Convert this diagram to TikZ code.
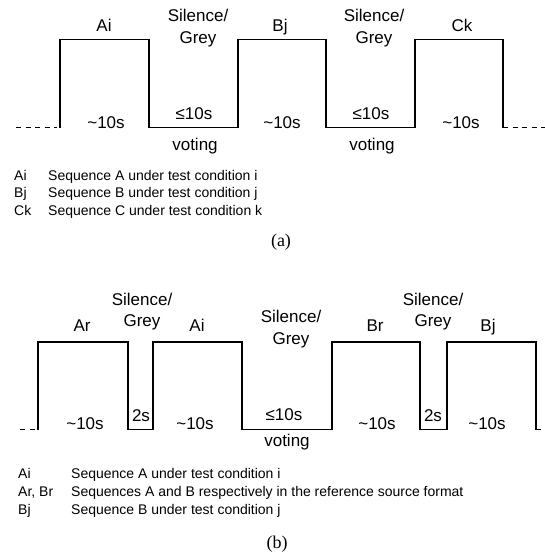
\documentclass[tikz,border=0pt]{standalone}
\usepackage{fontspec}
\setmainfont{Liberation Serif}
\setsansfont{Liberation Sans}
\begin{document}
\begin{tikzpicture}[x=1pt,y=-1pt,
  wave/.style={line width=1.8pt},
  dashwave/.style={line width=1.8pt,dash pattern=on 5pt off 4.5pt},
  lbl/.style={font=\sffamily\fontsize{17}{20}\selectfont,inner sep=0pt,anchor=base},
  leg/.style={font=\sffamily\fontsize{14}{16}\selectfont,inner sep=0pt,anchor=base west},
  capt/.style={font=\rmfamily\fontsize{18}{20}\selectfont,inner sep=0pt,anchor=base}]
\useasboundingbox (0,0) rectangle (545,552);
% ---------------- panel (a) ----------------
\coordinate (a0) at (16,127.5);
\coordinate (a1) at (60,127.5);
\coordinate (a9) at (503,127.5);
\coordinate (a10) at (545,127.5);
\draw[dashwave] (a0) -- (57,127.5);
\draw[wave] (a1) -- (60,39.5) -- (149,39.5) -- (149,127.5) -- (237.7,127.5)
  -- (237.7,39.5) -- (326,39.5) -- (326,127.5) -- (415,127.5) -- (415,39.5)
  -- (503,39.5) -- (a9);
\draw[dashwave] (a9) -- (a10);
\node[lbl] (lAi) at (104,31.7) {Ai};
\node[lbl] (lBj) at (280,31.7) {Bj};
\node[lbl] (lCk) at (462,31.7) {Ck};
\node[lbl] (s1) at (198,21.7) {Silence/};
\node[lbl] (g1) at (198,43.3) {Grey};
\node[lbl] (s2) at (374,21.7) {Silence/};
\node[lbl] (g2) at (374,43.3) {Grey};
\node[lbl] (t1) at (106,128) {\textasciitilde10s};
\node[lbl] (t2) at (282,128) {\textasciitilde10s};
\node[lbl] (t3) at (461,128) {\textasciitilde10s};
\node[lbl] (v1) at (194,119) {≤10s};
\node[lbl] (v2) at (371,119) {≤10s};
\node[lbl] (w1) at (195,150.7) {voting};
\node[lbl] (w2) at (372,150.7) {voting};
\node[leg] (ka1) at (14,180) {Ai};
\node[leg] (ka2) at (14,197.7) {Bj};
\node[leg] (ka3) at (14,215) {Ck};
\node[leg] (da1) at (48,180) {Sequence A under test condition i};
\node[leg] (da2) at (48,197.7) {Sequence B under test condition j};
\node[leg] (da3) at (48,215) {Sequence C under test condition k};
\node[capt] (capa) at (281,246) {(a)};
% ---------------- panel (b) ----------------
\coordinate (b0) at (20,429.5);
\coordinate (b1) at (38,429.5);
\coordinate (b9) at (535.7,429.5);
\coordinate (b10) at (545,429.5);
\draw[dashwave] (b0) -- (35,429.5);
\draw[wave] (b1) -- (38,341.7) -- (127.7,341.7) -- (127.7,429.5) -- (153,429.5)
  -- (153,341.7) -- (242,341.7) -- (242,429.5) -- (331.7,429.5) -- (331.7,341.7)
  -- (420,341.7) -- (420,429.5) -- (446.7,429.5) -- (446.7,341.7) -- (535.7,341.7)
  -- (b9);
\draw[dashwave] (b9) -- (b10);
\node[lbl] (lAr) at (82,331.7) {Ar};
\node[lbl] (lAi2) at (197,331.7) {Ai};
\node[lbl] (lBr) at (375,331.7) {Br};
\node[lbl] (lBj2) at (488,331.7) {Bj};
\node[lbl] (s3) at (142,305) {Silence/};
\node[lbl] (g3) at (142,326.7) {Grey};
\node[lbl] (s4) at (291,322.3) {Silence/};
\node[lbl] (g4) at (291,344) {Grey};
\node[lbl] (s5) at (433,305) {Silence/};
\node[lbl] (g5) at (433,326.7) {Grey};
\node[lbl] (u1) at (141,421.7) {2s};
\node[lbl] (u2) at (433,421.7) {2s};
\node[lbl] (t4) at (85,429.5) {\textasciitilde10s};
\node[lbl] (t5) at (195,429.5) {\textasciitilde10s};
\node[lbl] (t6) at (377,429.5) {\textasciitilde10s};
\node[lbl] (t7) at (487,429.5) {\textasciitilde10s};
\node[lbl] (v3) at (284,420) {≤10s};
\node[lbl] (w3) at (287,446.7) {voting};
\node[leg] (kb1) at (18,478.3) {Ai};
\node[leg] (kb2) at (18,496.7) {Ar, Br};
\node[leg] (kb3) at (18,514.3) {Bj};
\node[leg] (db1) at (71,478.3) {Sequence A under test condition i};
\node[leg] (db2) at (71,496.7) {Sequences A and B respectively in the reference source format};
\node[leg] (db3) at (71,514.3) {Sequence B under test condition j};
\node[capt] (capb) at (277,548) {(b)};
\end{tikzpicture}
\end{document}
